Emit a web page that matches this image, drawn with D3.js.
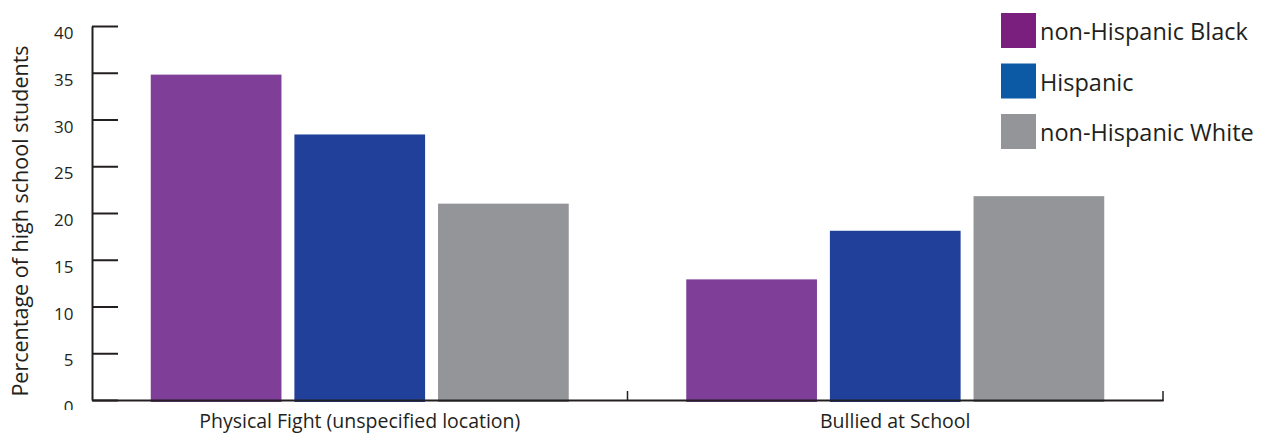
<!DOCTYPE html>
<html><head><meta charset="utf-8">
<script src="https://cdn.jsdelivr.net/npm/d3@7"></script>
<style>body{margin:0;background:#fff}svg{display:block}text{font-family:"Open Sans",sans-serif;fill:#231f20}</style>
</head><body>
<script>
const categories = ["Physical Fight (unspecified location)", "Bullied at School"];
const seriesNames = ["non-Hispanic Black", "Hispanic", "non-Hispanic White"];
const blackValues = [34.8, 12.9];
const hispanicValues = [28.4, 18.1];
const whiteValues = [21.0, 21.8];
const yTicks = [0, 5, 10, 15, 20, 25, 30, 35, 40];
const barColors = ["#7f3f98", "#21409a", "#939598"];
const legendColors = ["#7a1f7d", "#0c5aa6", "#939598"];

const W = 1269, H = 434;
const svg = d3.select("body").append("svg").attr("width", W).attr("height", H);
const x0 = d3.scaleBand().domain(categories).range([92, 1163]);
const y = d3.scaleLinear().domain([0, 40]).range([400, 26]);
const groupW = 418;
const x1 = d3.scaleBand().domain(seriesNames).range([0, groupW]).paddingInner(0.09).paddingOuter(0);

const series = [blackValues, hispanicValues, whiteValues];

svg.append("defs").append("clipPath").attr("id","yclip").append("rect").attr("x",-100).attr("y",-50).attr("width",300).attr("height",460);

// bars
categories.forEach((c, i) => {
  const gx = x0(c) + (x0.bandwidth() - groupW) / 2;
  seriesNames.forEach((s, j) => {
    const v = series[j][i];
    svg.append("rect")
      .attr("x", gx + x1(s))
      .attr("y", y(v))
      .attr("width", x1.bandwidth())
      .attr("height", y(0) - y(v) + 2)
      .attr("fill", barColors[j]);
  });
});

// y axis
const yAxis = svg.append("g").attr("transform", "translate(92,0)").attr("clip-path","url(#yclip)")
  .call(d3.axisLeft(y).tickValues(yTicks).tickSizeInner(-26).tickSizeOuter(0).tickPadding(18.5));
yAxis.select(".domain").attr("stroke", "#231f20").attr("stroke-width", 2);
yAxis.selectAll(".tick line").attr("stroke", "#231f20").attr("stroke-width", 2);
yAxis.selectAll(".tick text").attr("font-size", 17).attr("dy", "0.74em").style("font-family", '"Open Sans",sans-serif').attr("fill", "#231f20");

// x axis
const xAxis = svg.append("g").attr("transform", "translate(0,400)")
  .call(d3.axisBottom(x0).tickSize(0).tickPadding(14.5));
xAxis.select(".domain").attr("stroke", "#231f20").attr("stroke-width", 2);
xAxis.selectAll(".tick text").attr("font-size", 19.5).style("font-family", '"Open Sans",sans-serif').attr("fill", "#231f20");
// boundary ticks
const bounds = [x0(categories[1]), x0.range()[1]];
svg.selectAll("line.bt").data(bounds).enter().append("line").attr("class","bt")
  .attr("x1", d => d).attr("x2", d => d).attr("y1", 401).attr("y2", 391)
  .attr("stroke", "#231f20").attr("stroke-width", 1.5);

// y title
svg.append("text").attr("transform", "translate(28,221) rotate(-90)")
  .attr("text-anchor", "middle").attr("font-size", 21.5).text("Percentage of high school students");

// legend
const lg = svg.append("g");
seriesNames.forEach((s, j) => {
  lg.append("rect").attr("x", 1001).attr("y", 13 + j * 50.5).attr("width", 35).attr("height", 35).attr("fill", legendColors[j]);
  lg.append("text").attr("x", 1040).attr("y", 32 + j * 50.5).attr("dy", "0.35em").attr("font-size", 23.5).text(s);
});
</script>
</body></html>
